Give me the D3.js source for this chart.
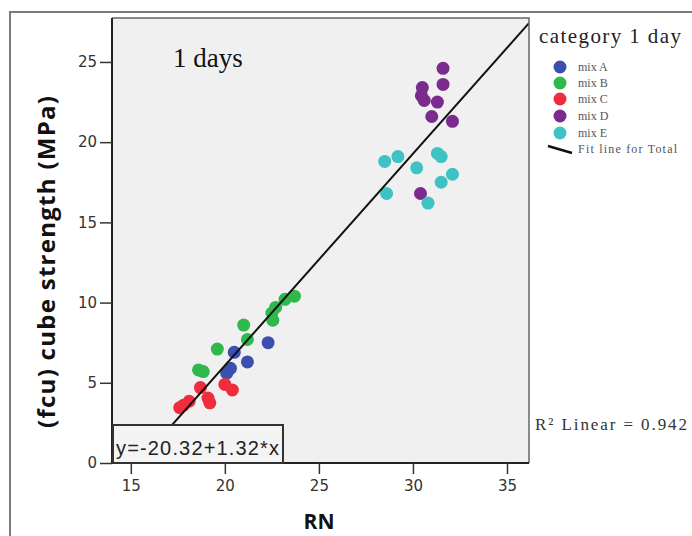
<!DOCTYPE html>
<html><head><meta charset="utf-8">
<script src="https://cdn.jsdelivr.net/npm/d3@7"></script>
<style>body{margin:0;background:#fff}svg{display:block}</style>
</head><body>
<script>
const categories = ["mix A","mix B","mix C","mix D","mix E"];
const colors = ["#3b4fb0","#2fb84b","#ee2e3e","#7b2a8e","#3fc2c4"];
const mixA_x = [22.3,20.5,21.2,20.3,20.1];
const mixA_y = [7.5,6.9,6.3,5.9,5.6];
const mixB_x = [23.7,23.2,22.7,22.5,22.55,21.0,21.2,19.6,18.6,18.85];
const mixB_y = [10.4,10.2,9.7,9.35,8.9,8.6,7.7,7.1,5.8,5.7];
const mixC_x = [18.7,20.0,20.4,19.1,19.2,17.8,18.1,17.6];
const mixC_y = [4.7,4.9,4.55,4.05,3.75,3.6,3.85,3.45];
const mixD_x = [31.6,31.6,30.5,30.45,30.6,31.3,31.0,32.1,30.4];
const mixD_y = [24.6,23.6,23.4,22.9,22.6,22.5,21.6,21.3,16.8];
const mixE_x = [28.5,29.2,31.3,31.5,30.2,32.1,31.5,28.6,30.8];
const mixE_y = [18.8,19.1,19.3,19.1,18.4,18.0,17.5,16.8,16.2];
const xTicks = [15,20,25,30,35];
const yTicks = [0,5,10,15,20,25];
const fitIntercept = -20.32, fitSlope = 1.32;
const r2 = 0.942;

const W = 692, H = 536;
const svg = d3.select("body").append("svg").attr("width", W).attr("height", H);
const L = 112, R = 529, T = 18, B = 463;
const x = d3.scaleLinear().domain([14, 36.17]).range([L, R]);
const y = d3.scaleLinear().domain([0, 27.74]).range([B, T]);

// outer frame
svg.append("path").attr("d", `M10,${H+5}V12H${W+5}`).attr("fill","none").attr("stroke","#7a7a7a").attr("stroke-width",2);

// plot bg
svg.append("rect").attr("x",L).attr("y",T).attr("width",R-L).attr("height",B-T).attr("fill","#f0f0f0");

svg.append("defs").append("clipPath").attr("id","clip").append("rect").attr("x",L).attr("y",T).attr("width",R-L).attr("height",B-T);

// points
const series = [[mixA_x,mixA_y],[mixB_x,mixB_y],[mixC_x,mixC_y],[mixD_x,mixD_y],[mixE_x,mixE_y]];
const g = svg.append("g").attr("clip-path","url(#clip)");
series.forEach((s,i)=>{
  g.selectAll(null).data(s[0].map((v,j)=>[v,s[1][j]])).enter().append("circle")
   .attr("cx",d=>x(d[0])).attr("cy",d=>y(d[1])).attr("r",6.5).attr("fill",colors[i]);
});
// fit line
const x0 = x.domain()[0], x1 = x.domain()[1];
g.append("line").attr("x1",x(x0)).attr("y1",y(fitIntercept+fitSlope*x0))
 .attr("x2",x(x1)).attr("y2",y(fitIntercept+fitSlope*x1)).attr("stroke","#111").attr("stroke-width",2);

// plot border
svg.append("path").attr("d",`M${L},${T}H${R}V${B}`).attr("fill","none").attr("stroke","#666").attr("stroke-width",1.5);
svg.append("path").attr("d",`M${L},${T}V${B}H${R}`).attr("fill","none").attr("stroke","#222").attr("stroke-width",2);

// axes
const xa = svg.append("g").attr("transform",`translate(0,${B})`)
  .call(d3.axisBottom(x).tickValues(xTicks).tickSize(11).tickSizeOuter(0).tickPadding(6));
const ya = svg.append("g").attr("transform",`translate(${L},0)`)
  .call(d3.axisLeft(y).tickValues(yTicks).tickSize(12).tickSizeOuter(0).tickPadding(3));
[xa,ya].forEach(a=>{
  a.select(".domain").remove();
  a.selectAll("line").attr("stroke","#333").attr("stroke-width",1.5);
  a.selectAll("text").attr("fill","#333").style("font-family","'DejaVu Sans'").style("font-size","15px");
});

// equation box
const eb = svg.append("g");
eb.append("rect").attr("x",113).attr("y",425).attr("width",170).attr("height",38).attr("fill","#f4f4f4").attr("stroke","#333").attr("stroke-width",2);
eb.append("text").attr("x",116).attr("y",455).text(`y=${fitIntercept}+${fitSlope}*x`)
 .style("font-family","'Liberation Sans'").style("font-size","20px").attr("fill","#222").attr("textLength",163);

// titles
svg.append("text").attr("x",173).attr("y",67).text("1 days").style("font-family","'Liberation Serif'").style("font-size","27px").attr("fill","#111");
svg.append("text").attr("transform","translate(55,262) rotate(-90)").attr("text-anchor","middle")
 .text("(fcu) cube strength (MPa)").style("font-family","'Open Sans'").style("font-weight","bold").style("font-size","24px").attr("fill","#111").attr("textLength",332);
svg.append("text").attr("x",319).attr("y",529).attr("text-anchor","middle").text("RN")
 .style("font-family","'Open Sans'").style("font-weight","bold").style("font-size","21px").attr("fill","#111");

// legend
svg.append("text").attr("x",539).attr("y",43).text("category 1 day").style("font-family","'Liberation Serif'").style("font-size","21px").attr("fill","#222").attr("textLength",142);
const ly = [67,83,99,116,133];
categories.forEach((c,i)=>{
  svg.append("circle").attr("cx",560).attr("cy",ly[i]).attr("r",6.5).attr("fill",colors[i]);
  svg.append("text").attr("x",578).attr("y",ly[i]+4).text(c).style("font-family","'Liberation Serif'").style("font-size","12px").attr("fill","#555");
});
svg.append("line").attr("x1",548).attr("y1",146).attr("x2",572).attr("y2",153).attr("stroke","#111").attr("stroke-width",2.5);
svg.append("text").attr("x",578).attr("y",153).text("Fit line for Total").style("font-family","'Liberation Serif'").style("font-size","12px").attr("fill","#555").attr("textLength",99);

svg.append("text").attr("x",535).attr("y",430).text(`R² Linear = ${r2}`).style("font-family","'Liberation Serif'").style("font-size","17px").attr("fill","#333").attr("textLength",152);
</script>
</body></html>
